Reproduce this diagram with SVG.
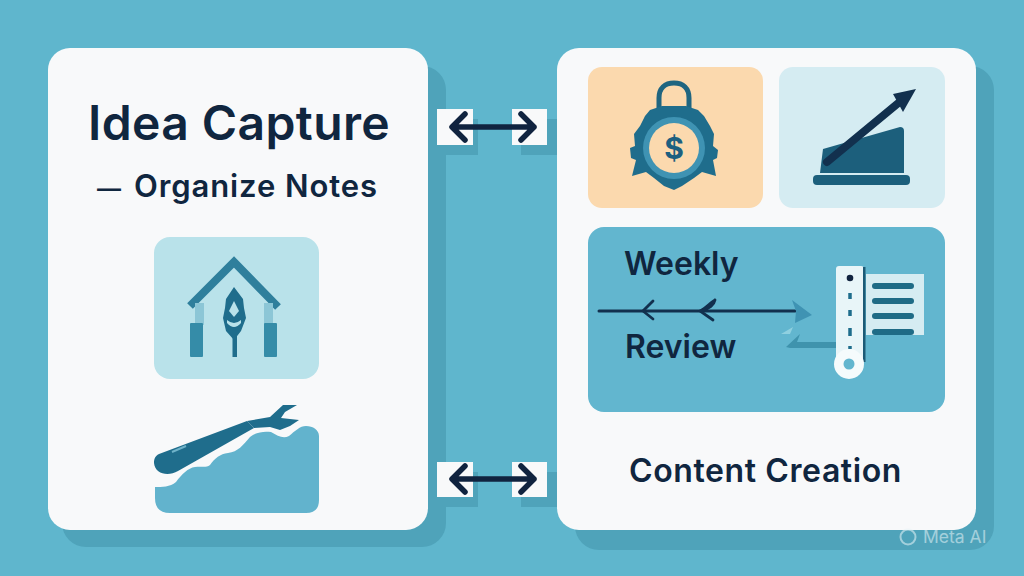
<svg xmlns="http://www.w3.org/2000/svg" width="1024" height="576" viewBox="0 0 1024 576">
<style>
.t{font-family:Inter,"Liberation Sans",sans-serif;font-weight:600;fill:#10263f}
.box{fill:#f8f9fa}
.conn{fill:none;stroke:#10233f;stroke-width:5.5;stroke-linecap:round;stroke-linejoin:round}
.sh{fill:#4fa3ba}
.bar{fill:#1f6b86}
.cb{fill:#f8f9fa}
</style>
<rect width="1024" height="576" fill="#5fb6cd"/>
<rect class="sh" x="62" y="66" width="384" height="481" rx="24"/>
<rect class="sh" x="575" y="66" width="419" height="484" rx="24"/>
<g class="sh">
<rect x="446" y="119" width="32" height="36"/>
<rect x="521" y="119" width="36" height="36"/>
<rect x="446" y="472" width="32" height="35"/>
<rect x="521" y="472" width="36" height="35"/>
</g>
<g id="idea-capture">
<rect class="box" x="48" y="48" width="380" height="482" rx="22"/>
<text class="t" x="88" y="140" font-size="48" letter-spacing=".4">Idea Capture</text>
<text class="t" x="97" y="197" font-size="31" letter-spacing=".9"><tspan font-size="24">—</tspan><tspan x="134">Organize Notes</tspan></text>
</g>
<g id="house-tile">
<rect x="154" y="237" width="165" height="142" rx="16" fill="#b9e2ea"/>
<path d="M190 306 234 262 278 307" fill="none" stroke="#2f7f9c" stroke-width="8"/>
<rect x="195" y="303" width="9" height="22" fill="#8cc6d6"/>
<rect x="264" y="303" width="9" height="22" fill="#8cc6d6"/>
<rect x="190" y="323" width="13" height="34" rx="1" fill="#358ca8"/>
<rect x="264" y="323" width="13" height="34" rx="1" fill="#358ca8"/>
<rect x="232.500" y="335" width="4.500" height="22" fill="#1f6d8c"/>
<path d="M234 287 243 299 244 308 246 318 241 331 234 340 226 331 223 318 225 308 226 299Z" fill="#1f6d8c"/>
<path d="M234 301 239 311 234 317 229 311Z" fill="#b9e2ea"/>
<path d="M227 320Q234 326 241 320L241 323Q234 331 227 323Z" fill="#b9e2ea"/>
</g>
<g id="wrench-wave">
<path d="M155 487C162 487 170 487 176 482 182 474 188 468 195 467 202 466 206 468 210 465 215 458 220 454 228 453 238 452 243 445 250 437 256 432 264 431 271 432 278 436 283 439 289 436 295 431 300 426 306 426 313 426 319 430 319 436V500Q319 513 306 513H170Q155 513 155 498Z" fill="#62b3cd"/>
<path d="M154 463C154 459 155 456 159 454L247 421 254 428 178 471C168 477 155 474 154 463Z" fill="#1f6d8c"/>
<path d="M247 421 270 417 283 405 297 405 285 412 281 418 299 420 290 426 280 430 270 427 254 428Z" fill="#1f6d8c"/>
<path d="M172 452 186 446" stroke="#6fb3c9" stroke-width="2" fill="none"/>
</g>
<g id="content-creation">
<rect class="box" x="557" y="48" width="419" height="482" rx="22"/>
<text class="t" x="629" y="482" font-size="32" letter-spacing=".6">Content Creation</text>
</g>
<g id="lock-tile">
<rect x="588" y="67" width="175" height="141" rx="14" fill="#fbd9ae"/>
<path d="M659 110V98C659 88 665 83 674 83 683 83 689 88 689 98V110" fill="none" stroke="#1f6580" stroke-width="5"/>
<path d="M650 110 662 106H686L698 110 704 116 710 126 714 134 713 146 718 150 717 158 713 160 716 176 702 172 694 178 682 186 674 190 664 186 654 178 646 172 632 176 636 160 631 158 630 148 635 146 634 134 640 126 645 116Z" fill="#1f6d8c"/>
<circle cx="674" cy="148" r="31" fill="#3f93b3"/>
<circle cx="674" cy="148" r="25" fill="#fbd9ae"/>
<text x="674" y="159" font-size="30" font-weight="700" text-anchor="middle" font-family="Inter,'Liberation Sans',sans-serif" fill="#1c5f80">$</text>
</g>
<g id="growth-tile">
<rect x="779" y="67" width="166" height="141" rx="14" fill="#d5ecf2"/>
<path d="M823 149 900 127Q904 127 904 131V173H820Z" fill="#1c5f7c"/>
<rect x="813" y="175" width="97" height="10" rx="4" fill="#1c5f7c"/>
<path d="M827 162 902 100" fill="none" stroke="#12304e" stroke-width="8" stroke-linecap="round"/>
<path d="M916 89 893 94 903 112Z" fill="#12304e"/>
</g>
<g id="weekly-review">
<rect x="588" y="227" width="357" height="185" rx="16" fill="#62b6cf"/>
<text class="t" x="624" y="275" font-size="32">Weekly</text>
<text class="t" x="625" y="358" font-size="32" fill="#143a58">Review</text>
<path d="M599 311H795" fill="none" stroke="#12304e" stroke-width="3" stroke-linecap="round"/>
<path d="M653 301 643 311 653 319M715 300C711 302 706 308 700 311L713 320M703 310C709 309 714 305 715 300" fill="none" stroke="#12304e" stroke-width="2.800" stroke-linecap="round"/>
<path d="M792 300 812 315 795 323 796 311Z" fill="#3f93b3"/>
<path d="M781 334 793 327 790 334Z" fill="#8fd0e0"/>
<path d="M786 347 800 334 797 342H836V348H790Z" fill="#3f93ad"/>
<rect x="866" y="274" width="58" height="61" fill="#d5ecf2"/>
<rect class="bar" x="872" y="283" width="42" height="6" rx="3"/>
<rect class="bar" x="872" y="298" width="42" height="6" rx="3"/>
<rect class="bar" x="872" y="313" width="42" height="6" rx="3"/>
<rect class="bar" x="872" y="329" width="42" height="6" rx="3"/>
<rect x="836" y="266" width="28" height="98" rx="3" fill="#e8f5f8"/>
<rect x="863" y="267" width="2.500" height="95" fill="#1c5a76"/>
<circle cx="850" cy="278" r="3.300" fill="#10233f"/>
<path d="M850 293V299M850 310V316M850 328V336M850 346V349" stroke="#1f6d8c" stroke-width="3.500" fill="none"/>
<circle cx="849" cy="364" r="15" fill="#f5fbfc"/>
<circle cx="849" cy="364" r="5.500" fill="#62b6cf"/>
</g>
<g id="connectors">
<rect class="cb" x="437" y="109" width="36" height="36"/>
<rect class="cb" x="512" y="109" width="35" height="36"/>
<rect class="cb" x="437" y="462" width="36" height="35"/>
<rect class="cb" x="512" y="462" width="35" height="35"/>
<path class="conn" d="M453 127H534M465 114 452 127 465 140M521 114 534 127 521 140"/>
<path class="conn" d="M453 479H534M465 466 452 479 465 492M521 466 534 479 521 492"/>
</g>
<g id="watermark" opacity=".55">
<circle cx="908" cy="537" r="7.500" fill="none" stroke="#e8f5f8" stroke-width="2"/>
<text x="923" y="543" font-size="17.500" font-family="Inter,'Liberation Sans',sans-serif" fill="#e8f5f8">Meta AI</text>
</g>
</svg>
